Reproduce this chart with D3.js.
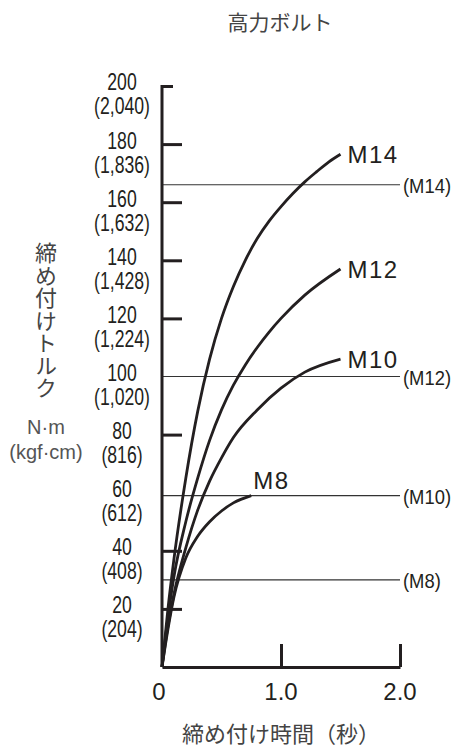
<!DOCTYPE html>
<html>
<head>
<meta charset="utf-8">
<script src="https://cdn.jsdelivr.net/npm/d3@7"></script>
<style>
  body { margin: 0; background: #fff; }
  .num { font-family: "Liberation Sans", Arial, sans-serif; fill: #231f20; }
  .sans { font-family: "Liberation Sans", Arial, sans-serif; fill: #231f20; }
  .jp { font-family: "Noto Sans CJK JP", sans-serif; fill: #444; }
</style>
</head>
<body>
<script>
// Torque (N·m) against time (s) for each bolt size
const curveNames = ["M8", "M10", "M12", "M14"];
const m8 = [[0,0],[0.05,13],[0.1,24],[0.2,37.5],[0.3,45],[0.4,50],[0.5,53.7],[0.6,56.5],[0.75,59]];
const m10 = [[0,0],[0.05,14],[0.1,25],[0.2,41],[0.3,54],[0.4,64],[0.5,72],[0.6,79],[0.8,88.5],[1.0,96],[1.2,101.5],[1.5,106]];
const m12 = [[0,0],[0.05,17],[0.1,31],[0.2,50],[0.3,65],[0.4,78],[0.5,88.5],[0.6,97],[0.7,104],[0.8,110],[0.9,115.3],[1.0,120],[1.2,128],[1.5,137]];
const m14 = [[0,0],[0.05,20],[0.1,37],[0.2,65],[0.3,88],[0.4,106],[0.5,120],[0.6,131],[0.7,140],[0.8,147.5],[0.9,153.5],[1.0,158.5],[1.1,163],[1.2,167],[1.3,170.5],[1.4,173.8],[1.5,176.5]];

// horizontal reference levels
const refNames = ["(M14)", "(M12)", "(M10)", "(M8)"];
const refValues = [166, 100, 59, 30];

// axis ticks and labels
const yLabelValues = [20, 40, 60, 80, 100, 120, 140, 160, 180, 200];
const yKgfLabels = ["(204)", "(408)", "(612)", "(816)", "(1,020)", "(1,224)", "(1,428)", "(1,632)", "(1,836)", "(2,040)"];
const yTickMarks = [20, 40, 80, 120, 140, 160, 180, 200];
const xTickValues = [0, 1, 2];
const xTickLabels = ["0", "1.0", "2.0"];

function main() {
  const width = 466, height = 747;
  const svg = d3.select("body").append("svg")
    .attr("width", width)
    .attr("height", height);

  const x = d3.scaleLinear().domain([0, 2]).range([162, 400]);
  const y = d3.scaleLinear().domain([0, 200]).range([667, 86]);

  // title
  svg.append("text").attr("class", "jp")
    .attr("x", 280).attr("y", 21)
    .attr("dominant-baseline", "central")
    .attr("text-anchor", "middle")
    .attr("font-size", 21)
    .text("高力ボルト");

  // reference lines
  const ref = svg.append("g");
  ref.selectAll("line").data(refValues).enter().append("line")
    .attr("x1", x(0)).attr("x2", x(2))
    .attr("y1", d => y(d)).attr("y2", d => y(d))
    .attr("stroke", "#333").attr("stroke-width", 1.2);
  ref.selectAll("text").data(refNames).enter().append("text")
    .attr("class", "sans")
    .attr("transform", (d, i) => `translate(${x(2) + 3},${y(refValues[i]) + 1}) scale(0.92,1.05)`)
    .attr("dominant-baseline", "central")
    .attr("font-size", 20)
    .text(d => d);

  // y axis (ticks point inward)
  const yAxis = svg.append("g")
    .attr("transform", `translate(${x(0)},0)`)
    .call(d3.axisRight(y).tickValues(yTickMarks).tickSize(20).tickSizeOuter(0).tickFormat(""));
  yAxis.selectAll("path").attr("stroke", "#231f20").attr("stroke-width", 3)
    .attr("d", `M0,${y(200) - 1}V${y(0)}`);
  yAxis.selectAll(".tick line").attr("stroke", "#231f20").attr("stroke-width", 3)
    .attr("x2", d => d === 200 ? 11 : 20);

  // x axis with upward ticks
  const xAxis = svg.append("g")
    .attr("transform", `translate(0,${y(0)})`)
    .call(d3.axisTop(x).tickValues([1, 2]).tickSize(23).tickSizeOuter(0).tickFormat(""));
  xAxis.selectAll("path").attr("stroke", "#231f20").attr("stroke-width", 3);
  xAxis.selectAll(".tick line").attr("stroke", "#231f20").attr("stroke-width", 3);

  // y tick labels: N·m over kgf·cm (condensed)
  const yl = svg.append("g");
  yl.selectAll("text.v").data(yLabelValues).enter().append("text")
    .attr("class", "num v")
    .attr("transform", d => `translate(122,${y(d) - 4}) scale(0.84,1.12)`)
    .attr("text-anchor", "middle").attr("dominant-baseline", "central")
    .attr("font-size", 21)
    .text(d => d);
  yl.selectAll("text.k").data(yKgfLabels).enter().append("text")
    .attr("class", "num k")
    .attr("transform", (d, i) => `translate(122,${y(yLabelValues[i]) + 20}) scale(0.84,1.12)`)
    .attr("text-anchor", "middle").attr("dominant-baseline", "central")
    .attr("font-size", 21)
    .text(d => d);

  // x tick labels
  svg.append("g").selectAll("text").data(xTickValues).enter().append("text")
    .attr("class", "sans")
    .attr("x", d => x(d) - (d === 0 ? 3 : 0)).attr("y", 691)
    .attr("text-anchor", "middle").attr("dominant-baseline", "central")
    .attr("font-size", 24)
    .text((d, i) => xTickLabels[i]);

  // axis titles
  svg.append("text").attr("class", "jp")
    .attr("x", 281).attr("y", 732)
    .attr("text-anchor", "middle").attr("dominant-baseline", "central")
    .attr("font-size", 22)
    .text("締め付け時間（秒）");
  svg.append("text").attr("class", "jp")
    .attr("x", 46).attr("y", 242)
    .attr("style", "writing-mode: vertical-rl; letter-spacing: 0.5px")
    .attr("font-size", 22)
    .text("締め付けトルク");
  svg.append("text").attr("class", "sans")
    .attr("x", 46).attr("y", 427)
    .attr("text-anchor", "middle").attr("dominant-baseline", "central")
    .attr("font-size", 20).style("fill", "#555")
    .text("N·m");
  svg.append("text").attr("class", "sans")
    .attr("x", 46).attr("y", 452)
    .attr("text-anchor", "middle").attr("dominant-baseline", "central")
    .attr("font-size", 20).style("fill", "#555")
    .text("(kgf·cm)");

  // curves
  const line = d3.line()
    .x(d => x(d[0]))
    .y(d => y(d[1]))
    .curve(d3.curveMonotoneX);
  const series = [m8, m10, m12, m14];
  svg.append("g").selectAll("path").data(series).enter().append("path")
    .attr("d", line)
    .attr("fill", "none")
    .attr("stroke", "#231f20")
    .attr("stroke-width", 2.8);

  // curve labels at each end
  svg.append("g").selectAll("text").data(series).enter().append("text")
    .attr("class", "sans")
    .attr("x", (d, i) => x(d[d.length - 1][0]) + (i === 0 ? 2 : 7))
    .attr("y", (d, i) => y(d[d.length - 1][1]) + (i === 0 ? -7 : 9))
    .attr("font-size", 24)
    .attr("letter-spacing", 1.5)
    .text((d, i) => curveNames[i]);
}

main();
</script>
</body>
</html>
